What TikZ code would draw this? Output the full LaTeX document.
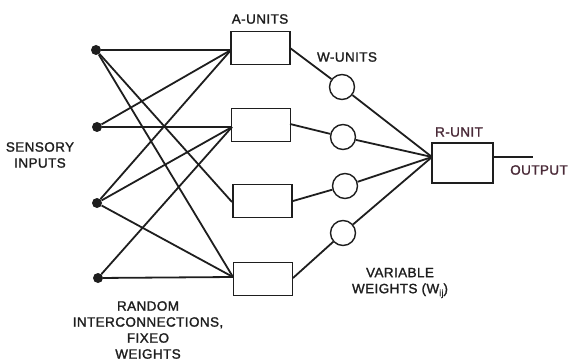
\documentclass[tikz,border=0pt]{standalone}
\usepackage{fontspec}
\setmainfont{Liberation Sans}[FakeBold=1.5, LetterSpace=3]
\definecolor{ink}{HTML}{1E1E1E}
\definecolor{maroon}{HTML}{4A2A38}
\begin{document}
\begin{tikzpicture}[x=1pt,y=-1pt,
  every node/.style={font=\fontsize{13.5}{16}\selectfont, text=ink},
  wire/.style={draw=ink, line width=1.8pt},
  abox/.style={draw=ink, line width=1.4pt, minimum width=59pt, minimum height=33pt, inner sep=0pt},
  wcirc/.style={draw=ink, line width=1.4pt, circle, minimum size=25pt, inner sep=0pt},
  dot/.style={fill=ink, circle, minimum size=10pt, inner sep=0pt},
  lbl/.style={align=center, inner sep=0pt}]
\useasboundingbox (0,0) rectangle (569,363);
% inputs
\node[dot] (i1) at (96,50) {};
\node[dot] (i2) at (97,127) {};
\node[dot] (i3) at (97,203) {};
\node[dot] (i4) at (98,278) {};
% A-units
\node[abox] (a1) at (260.5,48) {};
\node[abox] (a2) at (261,125) {};
\node[abox] (a3) at (262.5,201) {};
\node[abox] (a4) at (263,279) {};
\coordinate (a1in) at (231,50);
\coordinate (a2in) at (232,127);
\coordinate (a3in) at (232,202);
\coordinate (a4in) at (233,277);
% W-units
\node[wcirc] (w1) at (342,87) {};
\node[wcirc] (w2) at (343,137) {};
\node[wcirc] (w3) at (345,186) {};
\node[wcirc] (w4) at (343,233) {};
% R-unit
\node[abox, minimum width=61pt, minimum height=40pt] (r) at (462.5,163) {};
\coordinate (rin) at (432,157);
\coordinate (rout) at (493,157);
\coordinate (out) at (533,157);
% input connections
\draw[wire] (i1) -- (a1in);
\draw[wire] (i1) -- (a3in);
\draw[wire] (i1) -- (a4in);
\draw[wire] (i2) -- (a1in);
\draw[wire] (i2) -- (a2in);
\draw[wire] (i3) -- (a1in);
\draw[wire] (i3) -- (a2in);
\draw[wire] (i3) -- (a4in);
\draw[wire] (i4) -- (a2in);
\draw[wire] (i4) -- (a4in);
% A to W
\draw[wire] (290,48) -- (w1);
\draw[wire] (290,124) -- (w2);
\draw[wire] (293,201) -- (w3);
\draw[wire] (293,278) -- (w4);
% W to R
\draw[wire] (w1) -- (rin);
\draw[wire] (w2) -- (rin);
\draw[wire] (w3) -- (rin);
\draw[wire] (w4) -- (rin);
\draw[wire] (rout) -- (out);
% labels
\node[lbl] (tA) at (260,19) {A-UNITS};
\node[lbl] (tW) at (347,57) {W-UNITS};
\node[lbl, text=maroon] (tR) at (459,132) {R-UNIT};
\node[lbl, text=maroon] (tO) at (539,170) {OUTPUT};
\node[lbl] (tS) at (40,155) {SENSORY\\INPUTS};
\node[lbl] (tRand) at (148,330) {RANDOM\\INTERCONNECTIONS,\\FIXEO\\WEIGHTS};
\node[lbl] (tV) at (400,283) {VARIABLE\\WEIGHTS (W\raisebox{-3pt}{\fontsize{9}{9}\selectfont ij})};
\end{tikzpicture}
\end{document}
